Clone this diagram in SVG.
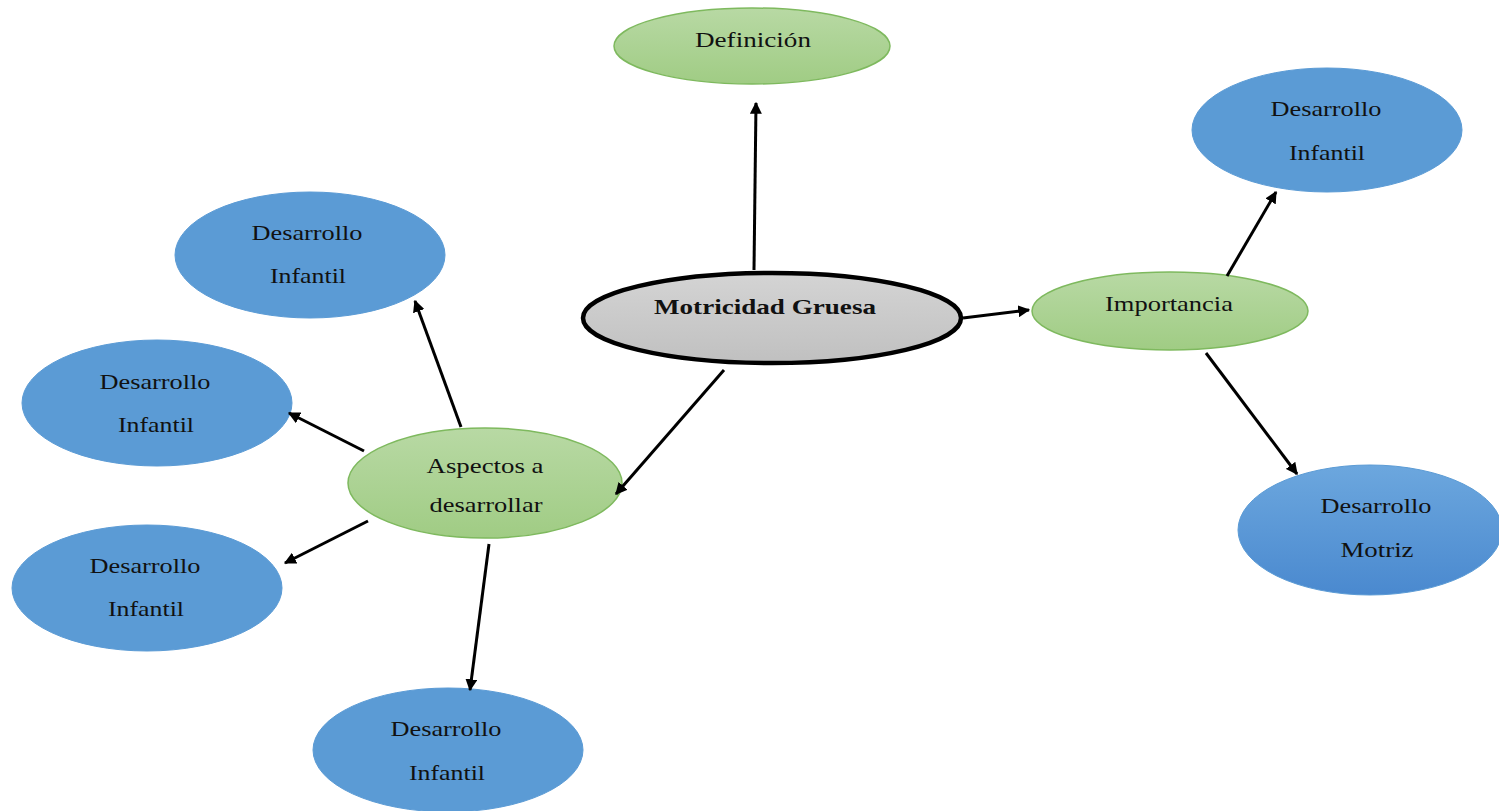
<svg xmlns="http://www.w3.org/2000/svg" width="1499" height="811" viewBox="0 0 1499 811">
<defs>
<linearGradient id="gGreen" x1="0" y1="0" x2="0" y2="1"><stop offset="0" stop-color="#b8d9a4"/><stop offset="1" stop-color="#a0cc84"/></linearGradient>
<linearGradient id="gGray" x1="0" y1="0" x2="0" y2="1"><stop offset="0" stop-color="#d4d4d4"/><stop offset="1" stop-color="#c0c0c0"/></linearGradient>
<linearGradient id="gBlue" x1="0" y1="0" x2="0" y2="1"><stop offset="0" stop-color="#6ca7de"/><stop offset="1" stop-color="#4a89cf"/></linearGradient>
<marker id="arr" viewBox="0 0 10 10" refX="9" refY="5" markerWidth="4" markerHeight="4" orient="auto" markerUnits="strokeWidth"><path d="M0,0 L10,5 L0,10 z" fill="#000"/></marker>
</defs>
<style>
.green{fill:url(#gGreen);stroke:#7eb95e;stroke-width:1.5}
.blue{fill:#5b9bd5;stroke:#5b9bd5;stroke-width:1}
.gray{fill:url(#gGray);stroke:#000;stroke-width:4.5}
.t{font-family:"Liberation Serif","Times New Roman",serif;font-size:22px;fill:#111;text-anchor:middle}
.b{font-weight:bold}
.c{stroke:#000;stroke-width:3;fill:none;marker-end:url(#arr)}
</style>
<rect width="1499" height="811" fill="#fff"/>
<g id="definicion">
<ellipse class="green" cx="752" cy="46" rx="138" ry="38"/>
<text class="t" x="753" y="47" textLength="116" lengthAdjust="spacingAndGlyphs">Definición</text>
</g>
<g id="motricidad">
<ellipse class="gray" cx="772" cy="318" rx="189" ry="45"/>
<text class="t b" x="765" y="314" textLength="222" lengthAdjust="spacingAndGlyphs">Motricidad Gruesa</text>
</g>
<g id="importancia">
<ellipse class="green" cx="1170" cy="311" rx="138" ry="39"/>
<text class="t" x="1169" y="311" textLength="128" lengthAdjust="spacingAndGlyphs">Importancia</text>
</g>
<g id="di-right">
<ellipse class="blue" cx="1327" cy="130" rx="135" ry="62"/>
<text class="t" x="1326" y="116" textLength="111" lengthAdjust="spacingAndGlyphs">Desarrollo</text>
<text class="t" x="1327" y="160" textLength="76" lengthAdjust="spacingAndGlyphs">Infantil</text>
</g>
<g id="dm">
<ellipse cx="1370" cy="530" rx="132" ry="65" fill="url(#gBlue)" stroke="#5b9bd5" stroke-width="1"/>
<text class="t" x="1376" y="513" textLength="111" lengthAdjust="spacingAndGlyphs">Desarrollo</text>
<text class="t" x="1377" y="557" textLength="73" lengthAdjust="spacingAndGlyphs">Motriz</text>
</g>
<g id="aspectos">
<ellipse class="green" cx="485" cy="483" rx="137" ry="55"/>
<text class="t" x="485" y="473" textLength="117" lengthAdjust="spacingAndGlyphs">Aspectos a</text>
<text class="t" x="486" y="512" textLength="113" lengthAdjust="spacingAndGlyphs">desarrollar</text>
</g>
<g id="di1">
<ellipse class="blue" cx="310" cy="255" rx="135" ry="63"/>
<text class="t" x="307" y="240" textLength="111" lengthAdjust="spacingAndGlyphs">Desarrollo</text>
<text class="t" x="308" y="283" textLength="76" lengthAdjust="spacingAndGlyphs">Infantil</text>
</g>
<g id="di2">
<ellipse class="blue" cx="157" cy="403" rx="135" ry="63"/>
<text class="t" x="155" y="389" textLength="111" lengthAdjust="spacingAndGlyphs">Desarrollo</text>
<text class="t" x="156" y="432" textLength="76" lengthAdjust="spacingAndGlyphs">Infantil</text>
</g>
<g id="di3">
<ellipse class="blue" cx="147" cy="588" rx="135" ry="63"/>
<text class="t" x="145" y="573" textLength="111" lengthAdjust="spacingAndGlyphs">Desarrollo</text>
<text class="t" x="146" y="616" textLength="76" lengthAdjust="spacingAndGlyphs">Infantil</text>
</g>
<g id="di4">
<ellipse class="blue" cx="448" cy="750" rx="135" ry="62"/>
<text class="t" x="446" y="736" textLength="111" lengthAdjust="spacingAndGlyphs">Desarrollo</text>
<text class="t" x="447" y="780" textLength="76" lengthAdjust="spacingAndGlyphs">Infantil</text>
</g>
<g id="connectors">
<line class="c" x1="754" y1="270" x2="756" y2="103"/>
<line class="c" x1="963" y1="318" x2="1029" y2="310"/>
<line class="c" x1="1227" y1="276" x2="1276" y2="192"/>
<line class="c" x1="1206" y1="353" x2="1297" y2="474"/>
<line class="c" x1="724" y1="370" x2="616" y2="494"/>
<line class="c" x1="461" y1="427" x2="415" y2="301"/>
<line class="c" x1="364" y1="451" x2="289" y2="413"/>
<line class="c" x1="368" y1="521" x2="285" y2="563"/>
<line class="c" x1="489" y1="544" x2="470" y2="690"/>
</g>
</svg>
